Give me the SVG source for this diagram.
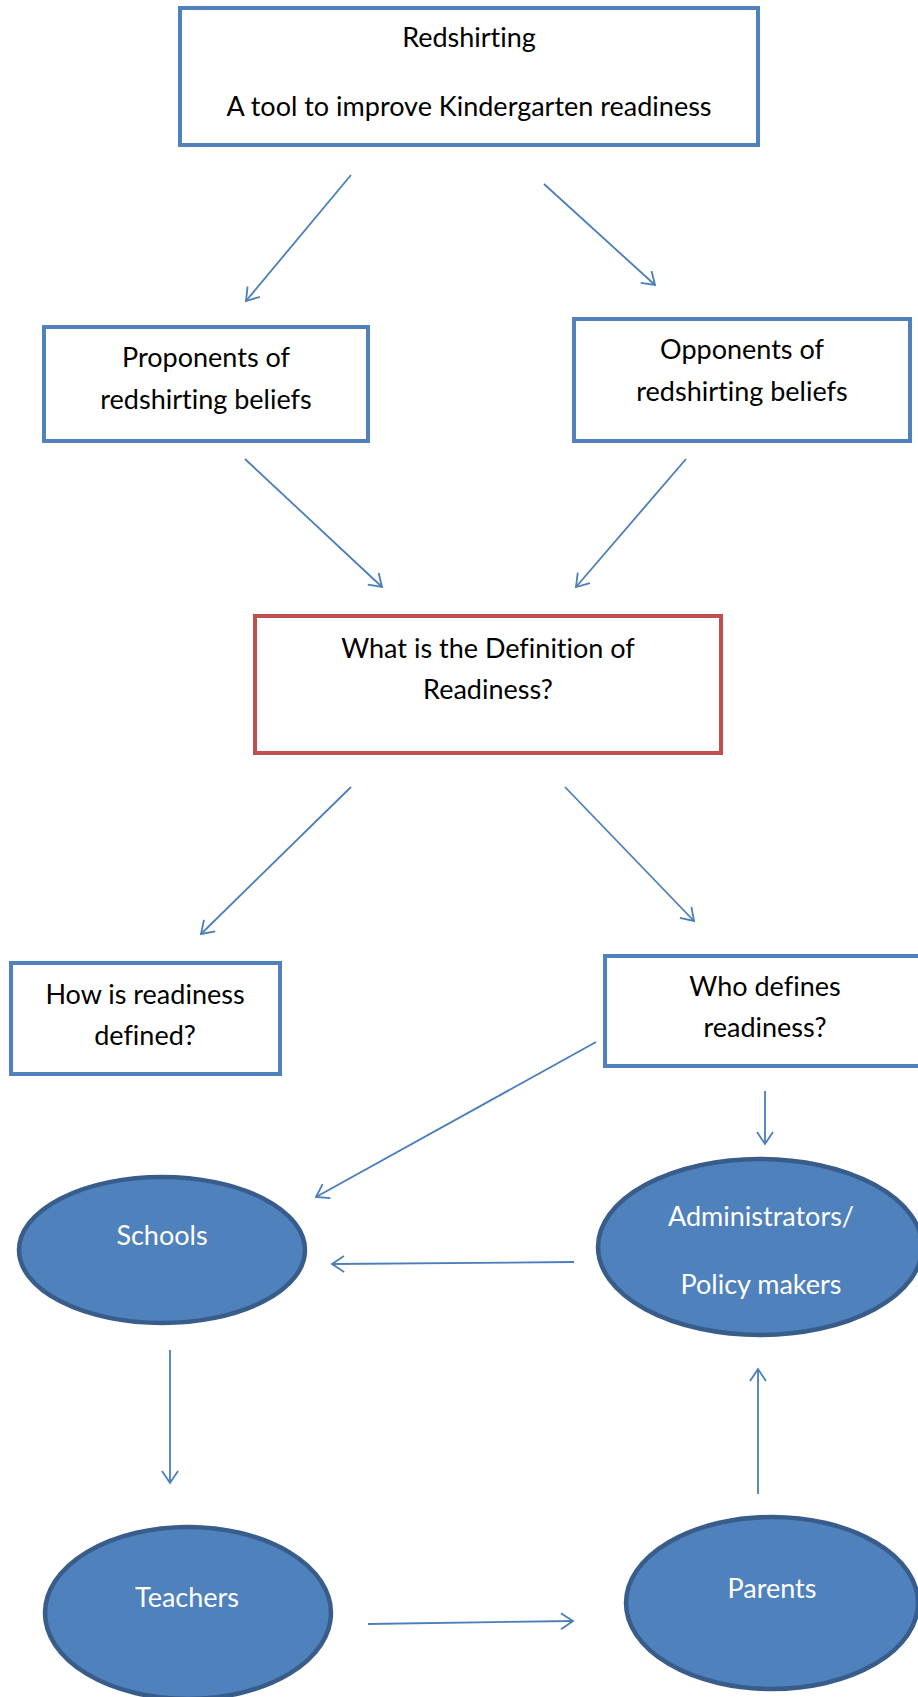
<svg xmlns="http://www.w3.org/2000/svg" width="918" height="1697" viewBox="0 0 918 1697">
<defs>
<style>
.box{fill:#fff;stroke:#4F81BD;stroke-width:4}
.rbox{fill:#fff;stroke:#C0504D;stroke-width:4}
.ell{fill:#4F81BD;stroke:#385D8A;stroke-width:4.5}
.t{font-family:Lato,"Open Sans",sans-serif;font-size:27px;fill:#000;text-anchor:middle;font-variant-ligatures:none}
.w{font-family:Lato,"Open Sans",sans-serif;font-size:27px;fill:#fff;text-anchor:middle;font-variant-ligatures:none}
.c{stroke:#4A7EBB;stroke-width:1.8;fill:none;marker-end:url(#ah)}
</style>
<marker id="ah" markerUnits="userSpaceOnUse" markerWidth="16" markerHeight="20" refX="13" refY="9" orient="auto">
<path d="M1,1 L13,9 L1,17" fill="none" stroke="#4A7EBB" stroke-width="1.8"/>
</marker>
</defs>
<rect width="918" height="1697" fill="#fff"/>
<g id="connectors">
<line class="c" x1="351" y1="175" x2="246" y2="301"/>
<line class="c" x1="544" y1="184" x2="655" y2="285"/>
<line class="c" x1="245" y1="459" x2="382" y2="587"/>
<line class="c" x1="686" y1="459" x2="576" y2="587"/>
<line class="c" x1="351" y1="787" x2="201" y2="934"/>
<line class="c" x1="565" y1="787" x2="694" y2="921"/>
<line class="c" x1="596" y1="1042" x2="316" y2="1197"/>
<line class="c" x1="765" y1="1091" x2="765" y2="1144"/>
<line class="c" x1="574" y1="1262" x2="332" y2="1264"/>
<line class="c" x1="170" y1="1350" x2="170" y2="1483"/>
<line class="c" x1="368" y1="1624" x2="573" y2="1621"/>
<line class="c" x1="758" y1="1494" x2="758" y2="1369"/>
</g>
<g id="redshirting">
<rect class="box" x="180" y="8" width="578" height="137"/>
<text class="t" x="469" y="47">Redshirting</text>
<text class="t" x="469" y="116">A tool to improve Kindergarten readiness</text>
</g>
<g id="proponents">
<rect class="box" x="44" y="327" width="324" height="114"/>
<text class="t" x="206" y="367">Proponents of</text>
<text class="t" x="206" y="409">redshirting beliefs</text>
</g>
<g id="opponents">
<rect class="box" x="574" y="319" width="336" height="122"/>
<text class="t" x="742" y="359">Opponents of</text>
<text class="t" x="742" y="401">redshirting beliefs</text>
</g>
<g id="definition">
<rect class="rbox" x="255" y="616" width="466" height="137"/>
<text class="t" x="488" y="658">What is the Definition of</text>
<text class="t" x="488" y="699">Readiness?</text>
</g>
<g id="how">
<rect class="box" x="11" y="963" width="269" height="111"/>
<text class="t" x="145" y="1004">How is readiness</text>
<text class="t" x="145" y="1045">defined?</text>
</g>
<g id="who">
<rect class="box" x="605" y="956" width="320" height="110"/>
<text class="t" x="765" y="996">Who defines</text>
<text class="t" x="765" y="1037">readiness?</text>
</g>
<g id="schools">
<ellipse class="ell" cx="162" cy="1250" rx="143" ry="73"/>
<text class="w" x="162" y="1245">Schools</text>
</g>
<g id="administrators">
<ellipse class="ell" cx="760" cy="1247" rx="162" ry="88"/>
<text class="w" x="761" y="1226">Administrators/</text>
<text class="w" x="761" y="1294">Policy makers</text>
</g>
<g id="teachers">
<ellipse class="ell" cx="188" cy="1613" rx="143" ry="86"/>
<text class="w" x="187" y="1607">Teachers</text>
</g>
<g id="parents">
<ellipse class="ell" cx="772" cy="1603" rx="146" ry="86"/>
<text class="w" x="772" y="1598">Parents</text>
</g>
</svg>
